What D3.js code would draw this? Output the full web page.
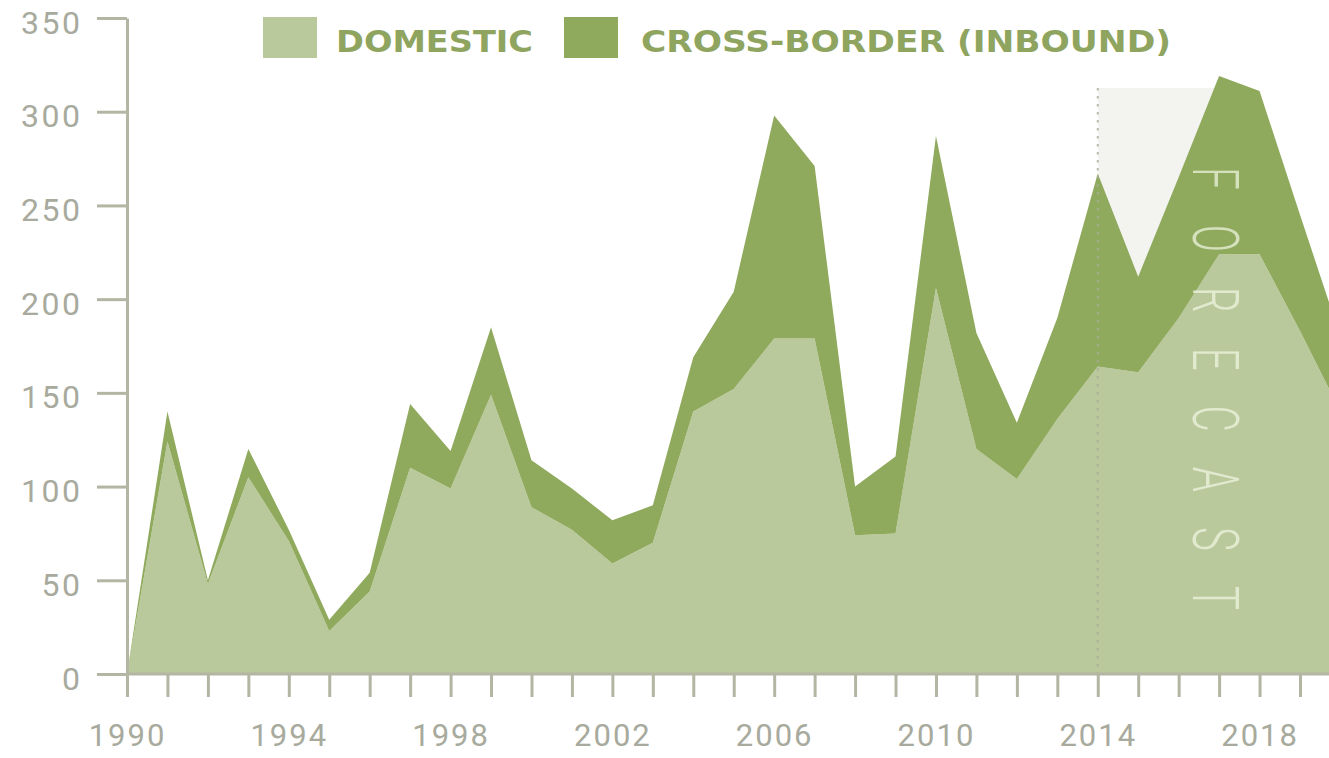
<!DOCTYPE html>
<html>
<head>
<meta charset="utf-8">
<script src="https://cdn.jsdelivr.net/npm/d3@7/dist/d3.min.js"></script>
<style>
  html, body { margin: 0; padding: 0; background: #ffffff; }
  svg { display: block; }
</style>
</head>
<body>
<svg id="chart" width="1329" height="758"></svg>
<script>
// Annual deal values, 1990–2020 (2014 onward is forecast)
const years = [1990,1991,1992,1993,1994,1995,1996,1997,1998,1999,
               2000,2001,2002,2003,2004,2005,2006,2007,2008,2009,
               2010,2011,2012,2013,2014,2015,2016,2017,2018,2019,2020];
const domestic = [0,124,48,105,71,23,44,110,99,149,
                  89,77,59,70,140,152,179,179,74,75,
                  206,120,104,136,164,161,190,224,224,183,140];
const crossBorder = [0,16,2,15,6,6,10,34,20,36,
                     25,22,23,20,29,52,119,92,26,41,
                     81,62,30,54,103,51,75,95,87,62,40];
const yTicks = [0,50,100,150,200,250,300,350];
const xLabelYears = [1990,1994,1998,2002,2006,2010,2014,2018];
const forecastStart = 2014;
const forecastShadeEnd = 2017;
const seriesNames = ["DOMESTIC", "CROSS-BORDER (INBOUND)"];

const colors = { domestic: "#bac99b", crossBorder: "#8faa5d" };
const axisColor = "#b3b6a3";
const labelColor = "#a7aa9d";
const legendText = "#8ea45f";

const svg = d3.select("#chart");

const x = d3.scaleLinear().domain([1990, 2019]).range([127, 1300]);
const y = d3.scaleLinear().domain([0, 350]).range([674, 18]);

const rows = years.map((yr, i) => ({ year: yr, domestic: domestic[i], crossBorder: crossBorder[i] }));
const stacked = d3.stack().keys(["domestic", "crossBorder"])(rows);

// Forecast shading behind the areas
svg.append("rect")
  .attr("x", x(forecastStart))
  .attr("y", 88)
  .attr("width", x(forecastShadeEnd) - x(forecastStart))
  .attr("height", y(0) - 88)
  .attr("fill", "#f3f3f0");

const area = d3.area()
  .x(d => x(d.data.year))
  .y0(d => y(d[0]))
  .y1(d => y(d[1]));

svg.append("g").selectAll("path")
  .data(stacked)
  .join("path")
  .attr("d", area)
  .attr("fill", d => colors[d.key]);

// Forecast divider
svg.append("line")
  .attr("x1", x(forecastStart)).attr("x2", x(forecastStart))
  .attr("y1", 88).attr("y2", y(0))
  .attr("stroke", "#a9ad98")
  .attr("stroke-width", 2)
  .attr("stroke-dasharray", "2.5,5.5")
  .attr("opacity", 0.8);

const tickFont = "Roboto, 'DejaVu Sans', sans-serif";

// Y axis
const yAxis = svg.append("g")
  .attr("transform", `translate(${x(1990)},0)`)
  .call(d3.axisLeft(y).tickValues(yTicks).tickSize(30).tickPadding(17).tickSizeOuter(0));
yAxis.select(".domain").attr("stroke", axisColor).attr("stroke-width", 3);
yAxis.selectAll(".tick line").attr("stroke", axisColor).attr("stroke-width", 3);
yAxis.selectAll(".tick text")
  .attr("fill", labelColor)
  .attr("font-family", tickFont)
  .attr("font-weight", 400)
  .attr("font-size", 32)
  .attr("letter-spacing", 2.5)
  .attr("dx", 2.5)
  .attr("dy", "0.47em");

// X axis
const xAxis = svg.append("g")
  .attr("transform", `translate(0,${y(0)})`)
  .call(d3.axisBottom(x)
    .tickValues(d3.range(1990, 2020))
    .tickSize(23)
    .tickPadding(28)
    .tickSizeOuter(0)
    .tickFormat(d => xLabelYears.includes(d) ? String(d) : ""));
xAxis.select(".domain")
  .attr("d", `M${x(1990)},0H1329`)
  .attr("stroke", axisColor).attr("stroke-width", 3);
xAxis.selectAll(".tick line").attr("stroke", axisColor).attr("stroke-width", 3);
xAxis.selectAll(".tick text")
  .attr("fill", labelColor)
  .attr("font-family", tickFont)
  .attr("font-weight", 400)
  .attr("font-size", 31)
  .attr("letter-spacing", 2)
  .attr("dy", "0.68em");

// Vertical FORECAST label
svg.append("text")
  .attr("transform", "translate(1193,167) rotate(90) scale(0.62,1)")
  .attr("font-family", "Roboto, 'DejaVu Sans', sans-serif")
  .attr("font-weight", 300)
  .attr("font-size", 65)
  .attr("fill", "#f0f5e2")
  .attr("fill-opacity", 0.72)
  .attr("textLength", (610 - 167) / 0.62)
  .attr("lengthAdjust", "spacing")
  .text("FORECAST");

// Legend
const legend = svg.append("g");
const legendItems = [
  { name: seriesNames[0], color: colors.domestic, sx: 263, tx: 336, tw: 197 },
  { name: seriesNames[1], color: colors.crossBorder, sx: 564, tx: 641, tw: 530 }
];
legendItems.forEach(item => {
  legend.append("rect")
    .attr("x", item.sx).attr("y", 17)
    .attr("width", 54).attr("height", 41)
    .attr("fill", item.color);
  legend.append("text")
    .attr("x", item.tx).attr("y", 52)
    .attr("font-family", "'DejaVu Sans Condensed', 'DejaVu Sans', sans-serif")
    .attr("font-weight", "bold")
    .attr("font-size", 31)
    .attr("fill", legendText)
    .attr("textLength", item.tw)
    .attr("lengthAdjust", "spacingAndGlyphs")
    .text(item.name);
});
</script>
</body>
</html>
